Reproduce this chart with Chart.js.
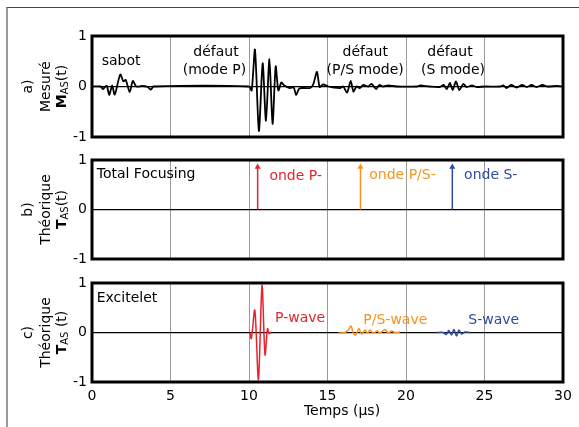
<!DOCTYPE html>
<html>
<head>
<meta charset="utf-8">
<script src="https://cdn.jsdelivr.net/npm/chart.js@4.4.1/dist/chart.umd.min.js"></script>
<style>
  body { margin: 0; background: #fff; }
  #frame { position: absolute; left: 6px; top: 7px; width: 573px; height: 420px; border-top: 1px solid #444; border-left: 2px solid #999; }
  canvas { position: absolute; left: 0; top: 0; }
</style>
</head>
<body>
<div id="frame"></div>
<canvas id="chartA" width="579" height="427"></canvas>
<canvas id="chartB" width="579" height="427"></canvas>
<canvas id="chartC" width="579" height="427"></canvas>
<script>
"use strict";

// measured signal M_AS(t), time in µs
const measuredT = [0, 0.55, 0.7, 0.85, 0.95, 1.1, 1.28, 1.45, 1.8, 2.0, 2.15, 2.4, 2.6, 2.82, 3.2, 3.55, 3.75, 3.92,
  10.0, 10.17, 10.38, 10.63, 10.87, 11.08, 11.3, 11.5, 11.7, 11.87, 12.06, 12.25, 12.6, 12.85, 13.0, 13.2, 13.5, 13.9,
  14.1, 14.33, 14.5, 14.72, 15.05, 15.4, 15.8, 16.0, 16.25, 16.48, 16.65, 16.85, 17.05, 17.28, 17.6, 17.8, 18.1, 18.3,
  18.55, 18.87, 19.4, 20.7, 20.9, 21.5, 22.15, 22.4, 22.6, 22.8, 22.97, 23.18, 23.4, 23.65, 23.86, 24.2, 24.5, 25.0,
  26.0, 26.2, 26.4, 26.7, 27.05, 27.4, 27.7, 28.0, 28.3, 28.7, 29.0, 29.6, 30];
const measuredV = [0, 0, -0.05, 0, 0.01, -0.17, 0.02, -0.16, 0.24, 0.1, 0.13, -0.11, 0.11, 0, 0.01, -0.01, -0.06, 0,
  0, -0.08, 0.73, -0.88, 0.46, -0.68, 0.54, -0.74, 0.4, -0.08, 0.08, 0.02, -0.03, -0.02, -0.17, -0.04, -0.03, -0.03,
  0.05, 0.29, -0.01, 0.04, 0, -0.02, -0.03, 0, -0.12, 0.11, -0.1, 0, -0.03, 0.03, 0, 0.05, -0.05, 0.03,
  0, 0.02, 0, 0, 0.02, 0, -0.01, 0.03, -0.05, 0.07, -0.07, 0.1, -0.07, 0.05, -0.01, 0.02, -0.01, 0,
  0, 0.02, -0.03, 0.03, -0.02, 0.03, -0.01, 0.03, -0.01, 0.03, 0, 0.01, 0];

// total focusing arrows (arrival times)
const arrowT = [10.55, 17.1, 22.95];
const arrowH = 0.86;

// excitelet wave packets
const pWaveT = [10.05, 10.15, 10.37, 10.6, 10.83, 11.02, 11.18, 11.28, 11.4];
const pWaveV = [0, -0.12, 0.45, -0.95, 0.95, -0.45, 0.08, -0.02, 0];
const psWaveT = [15.69, 16.1, 16.33, 16.5, 16.65, 16.8, 17.0, 17.17, 17.4, 17.54, 17.7, 17.9, 18.17, 18.34, 18.66, 18.87, 19.08, 19.3, 19.62];
const psWaveV = [-0.01, 0, 0.05, 0.13, -0.02, -0.05, 0.08, -0.03, 0.05, -0.02, 0.05, -0.01, 0.03, -0.01, 0.06, -0.01, 0.03, 0, 0.01];
const sWaveT = [21.95, 22.35, 22.58, 22.72, 22.9, 23.05, 23.22, 23.37, 23.54, 23.75, 24.08];
const sWaveV = [0, 0, -0.04, 0.04, -0.05, 0.06, -0.07, 0.05, -0.03, 0.01, 0];

const RED = '#e8232b';
const ORANGE = '#f7941d';
const BLUE = '#2e4a9e';
const FONT = "'DejaVu Sans', Verdana, sans-serif";

Chart.defaults.font.family = FONT;
Chart.defaults.font.size = 14;
Chart.defaults.color = '#000';

function toPoints(ts, vs) {
    return ts.map(function (t, i) { return { x: t, y: vs[i] }; });
}

// draws frame, notes and rotated y titles
const decor = {
    id: 'decor',
    afterDatasetsDraw: function (chart, args, opts) {
        const ctx = chart.ctx;
        const xs = chart.scales.x, ys = chart.scales.y;
        ctx.save();
        ctx.font = '14px ' + FONT;
        ctx.textBaseline = 'middle';
        (opts.notes || []).forEach(function (n) {
            ctx.fillStyle = n.color || '#000';
            ctx.textAlign = n.align || 'left';
            ctx.fillText(n.text, xs.getPixelForValue(n.t), ys.getPixelForValue(n.v));
        });
        ctx.restore();
    },
    afterDraw: function (chart, args, opts) {
        const ctx = chart.ctx;
        const a = chart.chartArea;
        ctx.save();
        ctx.strokeStyle = '#000';
        ctx.lineWidth = 3;
        ctx.strokeRect(a.left, a.top, a.right - a.left, a.bottom - a.top);

        // rotated y titles
        const cy = (a.top + a.bottom) / 2;
        (opts.title || []).forEach(function (col) {
            ctx.save();
            ctx.translate(col.x, cy);
            ctx.rotate(-Math.PI / 2);
            ctx.textBaseline = 'middle';
            ctx.fillStyle = '#000';
            // measure the pieces first so the column is centred
            let total = 0;
            col.parts.forEach(function (p) {
                ctx.font = (p.bold ? 'bold ' : '') + (p.sub ? '10px ' : '14px ') + FONT;
                p.w = ctx.measureText(p.text).width;
                total += p.w;
            });
            let x = -total / 2;
            col.parts.forEach(function (p) {
                ctx.font = (p.bold ? 'bold ' : '') + (p.sub ? '10px ' : '14px ') + FONT;
                ctx.textAlign = 'left';
                ctx.fillText(p.text, x, p.sub ? 3 : 0);
                x += p.w;
            });
            ctx.restore();
        });

        if (opts.xTitle) {
            ctx.font = '14px ' + FONT;
            ctx.textAlign = 'center';
            ctx.textBaseline = 'middle';
            ctx.fillText(opts.xTitle.text, opts.xTitle.x, opts.xTitle.y);
        }
        ctx.restore();
    }
};

function makePanel(id, top, bottom, datasets, decorOpts, showX) {
    const xHeight = showX ? 20 : 0;
    return new Chart(document.getElementById(id), {
        type: 'line',
        data: { datasets: datasets },
        options: {
            responsive: false,
            animation: false,
            devicePixelRatio: 1,
            layout: { padding: { top: top, bottom: 427 - bottom - xHeight, left: 0, right: 16 } },
            plugins: {
                legend: { display: false },
                tooltip: { enabled: false },
                decor: decorOpts
            },
            elements: { point: { radius: 0 } },
            scales: {
                x: {
                    type: 'linear',
                    min: 0,
                    max: 30,
                    ticks: { display: showX, stepSize: 5, padding: 6, maxRotation: 0 },
                    border: { display: false },
                    grid: {
                        drawTicks: false,
                        lineWidth: 1,
                        color: function (c) {
                            return (c.tick.value > 0 && c.tick.value < 30) ? '#9a9a9a' : 'rgba(0,0,0,0)';
                        }
                    },
                    afterFit: function (scale) {
                        scale.height = xHeight;
                        scale.paddingLeft = 0;
                        scale.paddingRight = 0;
                    }
                },
                y: {
                    min: -1,
                    max: 1,
                    ticks: { stepSize: 1, padding: 5 },
                    border: { display: false },
                    grid: {
                        drawTicks: false,
                        lineWidth: 1.2,
                        color: function (c) { return c.tick.value === 0 ? '#000' : 'rgba(0,0,0,0)'; }
                    },
                    afterFit: function (scale) {
                        scale.width = 92;
                        scale.paddingTop = 0;
                        scale.paddingBottom = 0;
                    }
                }
            }
        },
        plugins: [decor]
    });
}

// a) measured
makePanel('chartA', 36, 137, [
    {
        data: toPoints(measuredT, measuredV),
        borderColor: '#000',
        borderWidth: 1.8,
        tension: 0.25
    }
], {
    notes: [
        { text: 'sabot', t: 0.62, v: 0.5 },
        { text: 'défaut', t: 7.9, v: 0.68, align: 'center' },
        { text: '(mode P)', t: 7.8, v: 0.32, align: 'center' },
        { text: 'défaut', t: 17.4, v: 0.68, align: 'center' },
        { text: '(P/S mode)', t: 17.4, v: 0.32, align: 'center' },
        { text: 'défaut', t: 22.8, v: 0.68, align: 'center' },
        { text: '(S mode)', t: 23.0, v: 0.32, align: 'center' }
    ],
    title: [
        { x: 28, parts: [{ text: 'a)' }] },
        { x: 46, parts: [{ text: 'Mesuré' }] },
        { x: 62, parts: [{ text: 'M', bold: true }, { text: 'AS', sub: true }, { text: '(t)' }] }
    ]
}, false);

// b) total focusing
const arrowColors = [RED, ORANGE, BLUE];
makePanel('chartB', 160, 259, arrowT.map(function (t, i) {
    return {
        data: [{ x: t, y: 0 }, { x: t, y: arrowH }],
        borderColor: arrowColors[i],
        backgroundColor: arrowColors[i],
        borderWidth: 1.5,
        pointRadius: [0, 3.5],
        pointStyle: 'triangle',
        pointBackgroundColor: arrowColors[i],
        pointBorderWidth: 0
    };
}), {
    notes: [
        { text: 'Total Focusing', t: 0.3, v: 0.71 },
        { text: 'onde P-', t: 11.3, v: 0.67, color: RED },
        { text: 'onde P/S-', t: 17.66, v: 0.69, color: ORANGE },
        { text: 'onde S-', t: 23.7, v: 0.69, color: BLUE }
    ],
    title: [
        { x: 28, parts: [{ text: 'b)' }] },
        { x: 46, parts: [{ text: 'Théorique' }] },
        { x: 62, parts: [{ text: 'T', bold: true }, { text: 'AS', sub: true }, { text: '(t)' }] }
    ]
}, false);

// c) excitelet
makePanel('chartC', 283, 382, [
    { data: toPoints(pWaveT, pWaveV), borderColor: RED, borderWidth: 1.5, tension: 0.3 },
    { data: toPoints(psWaveT, psWaveV), borderColor: ORANGE, borderWidth: 1.5, tension: 0.3 },
    { data: toPoints(sWaveT, sWaveV), borderColor: BLUE, borderWidth: 1.5, tension: 0.3 }
], {
    notes: [
        { text: 'Excitelet', t: 0.3, v: 0.69 },
        { text: 'P-wave', t: 11.66, v: 0.28, color: RED },
        { text: 'P/S-wave', t: 17.28, v: 0.24, color: ORANGE },
        { text: 'S-wave', t: 23.97, v: 0.24, color: BLUE }
    ],
    title: [
        { x: 28, parts: [{ text: 'c)' }] },
        { x: 46, parts: [{ text: 'Théorique' }] },
        { x: 62, parts: [{ text: 'T', bold: true }, { text: 'AS', sub: true }, { text: ' (t)' }] }
    ],
    xTitle: { text: 'Temps (µs)', x: 342, y: 411 }
}, true);
</script>
</body>
</html>
